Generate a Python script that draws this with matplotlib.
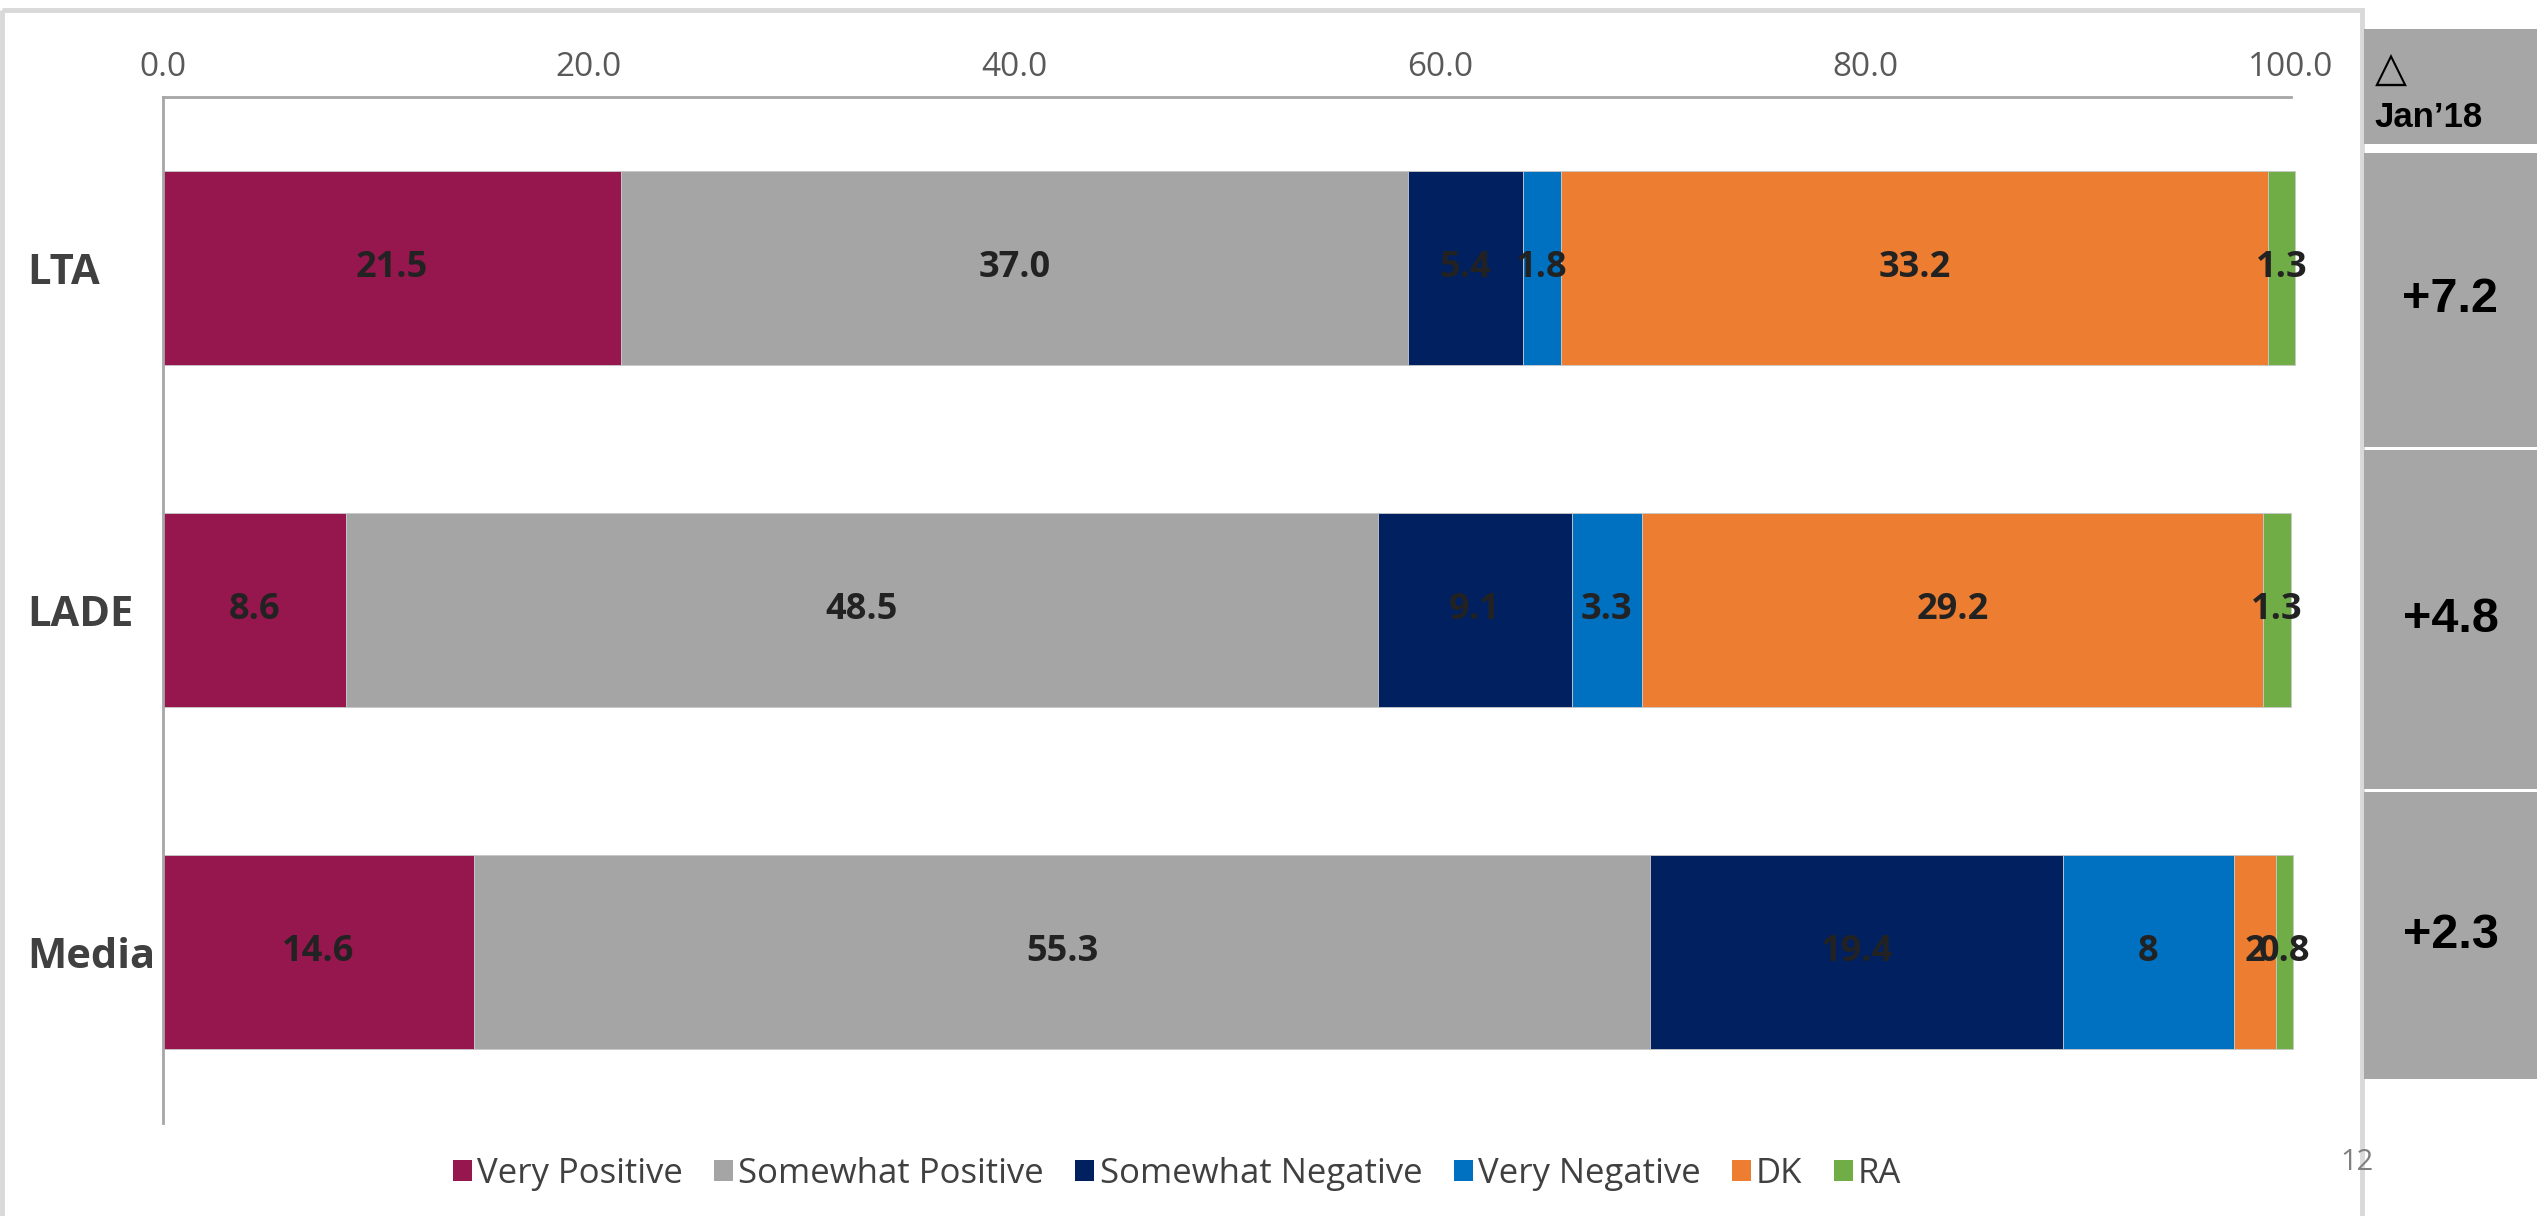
"""
Stacked sentiment bars
======================

Horizontal 100% bars per source, with a side column of changes vs Jan'18.
"""
import numpy as np
import matplotlib.pyplot as plt
from matplotlib.patches import Patch, Rectangle

plt.rcParams['font.family'] = ['Open Sans', 'DejaVu Sans']

categories = ['LTA', 'LADE', 'Media']
series = ['Very Positive', 'Somewhat Positive', 'Somewhat Negative',
          'Very Negative', 'DK', 'RA']
very_positive = [21.5, 8.6, 14.6]
somewhat_positive = [37.0, 48.5, 55.3]
somewhat_negative = [5.4, 9.1, 19.4]
very_negative = [1.8, 3.3, 8]
dont_know = [33.2, 29.2, 2]
refused = [1.3, 1.3, 0.8]
values = [very_positive, somewhat_positive, somewhat_negative,
          very_negative, dont_know, refused]
colors = ['#95174E', '#A5A5A5', '#002060', '#0070C0', '#ED7D31', '#70AD47']

delta_header = 'Jan\u201918'
delta_values = ['+7.2', '+4.8', '+2.3']

W, H = 2539, 1216
fig = plt.figure(figsize=(W / 100, H / 100), dpi=100)

###############################################################################
# Main stacked bar chart
ax = fig.add_axes([163 / W, 1 - 1123 / H, (2291 - 163) / W, (1123 - 97) / H])
ypos = np.arange(len(categories))
left = np.zeros(len(categories))
for name, vals, col in zip(series, values, colors):
    vals_arr = np.array(vals, dtype=float)
    ax.barh(ypos, vals_arr, left=left, height=0.565, color=col,
            edgecolor='#c8c8c8', linewidth=0.6, clip_on=False, label=name)
    for y, v, l in zip(ypos, vals, left):
        ax.text(l + v / 2, y, str(v), ha='center', va='center',
                fontsize=26, fontweight='bold', color='#222222', clip_on=False)
    left += vals_arr

ax.set_xlim(0, 100)
ax.set_ylim(2.5, -0.5)
ax.xaxis.tick_top()
ax.set_xticks(np.arange(0, 101, 20))
ax.set_xticklabels(['%.1f' % t for t in np.arange(0, 101, 20)])
ax.tick_params(axis='x', length=0, pad=9, labelsize=24, labelcolor='#595959')
ax.set_yticks(ypos)
ax.set_yticklabels(categories, fontsize=30, fontweight='bold', color='#404040')
ax.tick_params(axis='y', length=0, pad=98)
for lbl in ax.get_yticklabels():
    lbl.set_horizontalalignment('left')
for side in ['right', 'bottom']:
    ax.spines[side].set_visible(False)
for side in ['top', 'left']:
    ax.spines[side].set_color('#a6a6a6')
    ax.spines[side].set_linewidth(2)

handles = [Patch(facecolor=c, edgecolor='none') for c in colors]
fig.legend(handles, series, loc='center', ncol=len(series),
           bbox_to_anchor=(1177 / W, 1 - 1174 / H), frameon=False,
           fontsize=25, labelcolor='#404040', handlelength=0.55,
           handleheight=0.55, handletextpad=0.15, columnspacing=0.9,
           borderpad=0, borderaxespad=0)

###############################################################################
# Frame, side table of changes and page number (pixel coordinates)
ov = fig.add_axes([0, 0, 1, 1])
ov.set_xlim(0, W)
ov.set_ylim(H, 0)
ov.axis('off')
ov.add_patch(Rectangle((2, 10), 2360, 1400, fill=False, edgecolor='#d9d9d9',
                       linewidth=3.5, clip_on=False))

box_x0, box_x1 = 2364, 2537
box_top = [29, 153, 450, 792]
box_bot = [144, 447, 789, 1079]
for t, b in zip(box_top, box_bot):
    ov.add_patch(Rectangle((box_x0, t), box_x1 - box_x0, b - t,
                           facecolor='#A6A6A6', edgecolor='none'))
ov.text(2375, 70, '\u25B3', ha='left', va='center', fontsize=30,
        color='black', family=['DejaVu Sans'])
ov.text(2374, 127, delta_header, ha='left', va='baseline', fontsize=25,
        fontweight='bold', color='black', family=['Liberation Sans'])
for t, b, txt in zip(box_top[1:], box_bot[1:], delta_values):
    ov.text((box_x0 + box_x1) / 2, (t + b) / 2, txt, ha='center',
            va='center', fontsize=35, fontweight='bold', color='black',
            family=['Liberation Sans'])

ov.text(2357, 1162, '12', ha='center', va='center', fontsize=21,
        color='#7f7f7f')

fig.savefig('out.png', dpi=100, facecolor='white')
